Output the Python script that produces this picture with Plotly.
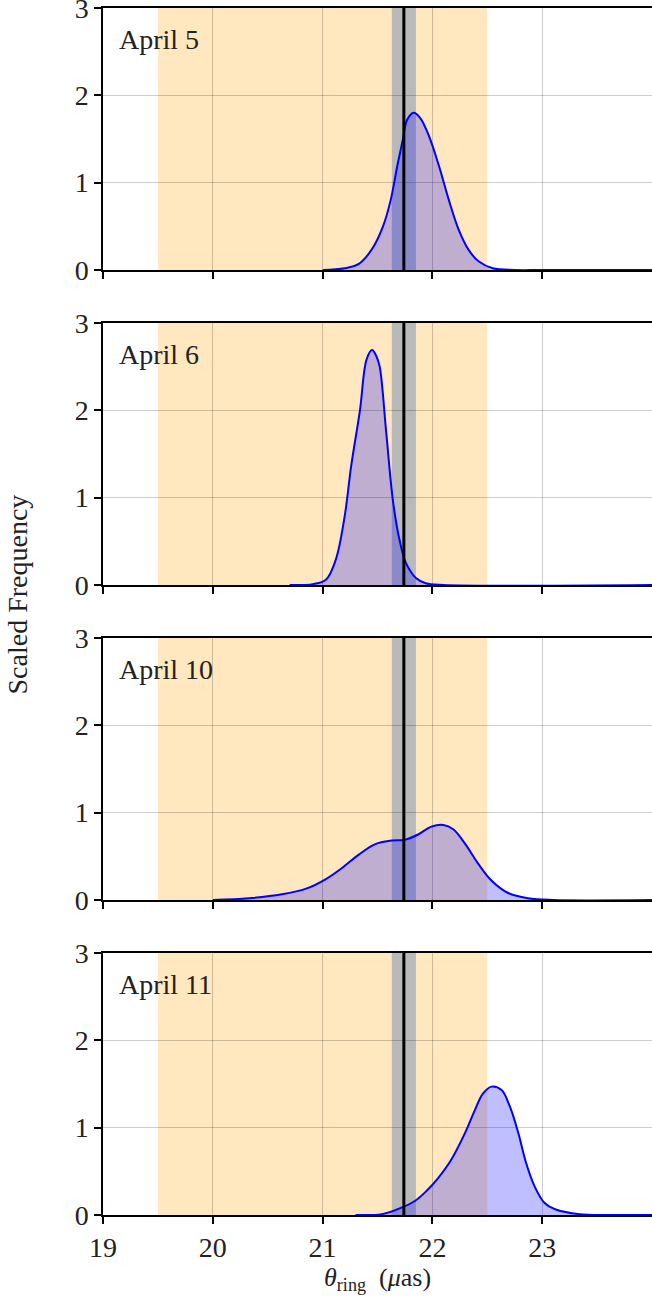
import plotly.graph_objects as go
from plotly.subplots import make_subplots

days = ["April 5", "April 6", "April 10", "April 11"]

x_apr5 = [21.0, 21.2, 21.33, 21.45, 21.55, 21.62, 21.68, 21.73, 21.77, 21.83, 21.89, 21.97,
          22.06, 22.15, 22.24, 22.33, 22.42, 22.55, 22.75, 23.0, 24.0]
y_apr5 = [0.0, 0.02, 0.07, 0.24, 0.50, 0.80, 1.19, 1.49, 1.72, 1.80, 1.74, 1.53,
          1.19, 0.80, 0.46, 0.23, 0.10, 0.02, 0.0, 0.0, 0.0]

x_apr6 = [20.7, 20.91, 21.03, 21.12, 21.20, 21.26, 21.34, 21.40, 21.45, 21.49, 21.52, 21.58,
          21.64, 21.70, 21.76, 21.85, 21.94, 22.1, 24.0]
y_apr6 = [0.0, 0.01, 0.06, 0.29, 0.78, 1.36, 2.0, 2.58, 2.69, 2.62, 2.50, 1.74,
          0.97, 0.52, 0.25, 0.08, 0.02, 0.0, 0.0]

x_apr10 = [20.0, 20.33, 20.63, 20.85, 21.03, 21.18, 21.33, 21.48, 21.63, 21.75, 21.87, 21.99,
           22.10, 22.19, 22.30, 22.42, 22.54, 22.69, 22.87, 23.1, 24.0]
y_apr10 = [0.0, 0.02, 0.065, 0.13, 0.24, 0.37, 0.52, 0.64, 0.68, 0.69, 0.75, 0.84,
           0.86, 0.81, 0.64, 0.41, 0.22, 0.08, 0.02, 0.0, 0.0]

x_apr11 = [21.3, 21.54, 21.69, 21.84, 21.95, 22.05, 22.17, 22.29, 22.38, 22.46, 22.54, 22.63,
           22.70, 22.78, 22.85, 22.93, 23.02, 23.13, 23.34, 23.6, 24.0]
y_apr11 = [0.0, 0.01, 0.07, 0.16, 0.28, 0.42, 0.63, 0.92, 1.18, 1.39, 1.47, 1.43,
           1.26, 0.95, 0.61, 0.33, 0.14, 0.06, 0.01, 0.0, 0.0]

curves = [(x_apr5, y_apr5), (x_apr6, y_apr6), (x_apr10, y_apr10), (x_apr11, y_apr11)]

prior_band = [19.5, 22.5]
ref_band = [21.63, 21.85]
ref_value = 21.74

x_ticks = [19, 20, 21, 22, 23]
y_ticks = [0, 1, 2, 3]

FONT = "Liberation Serif"
TXT = "#222"

fig = make_subplots(rows=4, cols=1, vertical_spacing=53 / 1207)

for i, (xs, ys) in enumerate(curves, start=1):
    fig.add_trace(go.Scatter(
        x=xs, y=ys, mode="lines",
        line=dict(color="blue", width=2, shape="spline", smoothing=1.0),
        fill="tozeroy", fillcolor="rgba(0,0,255,0.25)",
        showlegend=False, hoverinfo="skip",
    ), row=i, col=1)

    xa = "x" if i == 1 else f"x{i}"
    ya = "y" if i == 1 else f"y{i}"
    fig.add_shape(type="rect", xref=xa, yref=f"{ya} domain", x0=prior_band[0], x1=prior_band[1],
                  y0=0, y1=1, fillcolor="rgba(255,165,0,0.25)", line_width=0, layer="below")
    fig.add_shape(type="rect", xref=xa, yref=f"{ya} domain", x0=ref_band[0], x1=ref_band[1],
                  y0=0, y1=1, fillcolor="#b9b9b9", line_width=0, layer="below")
    fig.add_shape(type="line", xref=xa, yref=f"{ya} domain", x0=ref_value, x1=ref_value,
                  y0=0, y1=1, line=dict(color="black", width=3), layer="above")

    fig.add_annotation(text=days[i - 1], xref=f"{xa} domain", yref=f"{ya} domain",
                       x=0.025, y=0.88, xanchor="left", yanchor="middle", showarrow=False,
                       font=dict(family=FONT, size=28, color=TXT))

    fig.update_xaxes(range=[19, 24], tickvals=x_ticks, showticklabels=(i == 4),
                     tickfont=dict(family=FONT, size=28, color=TXT),
                     ticks="outside", ticklen=7, tickwidth=1.5, tickcolor="black",
                     showline=True, linecolor="black", linewidth=1.5, mirror=True,
                     showgrid=True, gridcolor="rgba(0,0,0,0.2)", gridwidth=1.2,
                     zeroline=False, automargin=False, ticklabeloverflow="allow",
                     row=i, col=1)
    fig.update_yaxes(range=[0, 3], tickvals=y_ticks,
                     tickfont=dict(family=FONT, size=28, color=TXT),
                     ticks="outside", ticklen=7, tickwidth=1.5, tickcolor="black",
                     showline=True, linecolor="black", linewidth=1.5,
                     showgrid=True, gridcolor="rgba(0,0,0,0.2)", gridwidth=1.2,
                     zeroline=False, automargin=False, ticklabeloverflow="allow",
                     row=i, col=1)

fig.add_annotation(text="<i>θ</i><sub>ring</sub>  (<i>μ</i>as)", xref="paper", yref="paper",
                   x=0.5, y=-0.068, xanchor="center", yanchor="bottom", showarrow=False,
                   font=dict(family=FONT, size=26, color=TXT))
fig.add_annotation(text="Scaled Frequency", xref="paper", yref="paper",
                   x=-0.155, y=0.514, xanchor="center", yanchor="middle", showarrow=False,
                   textangle=-90, font=dict(family=FONT, size=28, color=TXT))

fig.update_layout(
    width=652, height=1298,
    margin=dict(l=103, r=0, t=8, b=83),
    plot_bgcolor="white", paper_bgcolor="white",
    font=dict(family=FONT, size=28, color=TXT),
)

fig.write_html("out.html", config={"displayModeBar": False},
               post_script="document.body.style.margin='0';")
